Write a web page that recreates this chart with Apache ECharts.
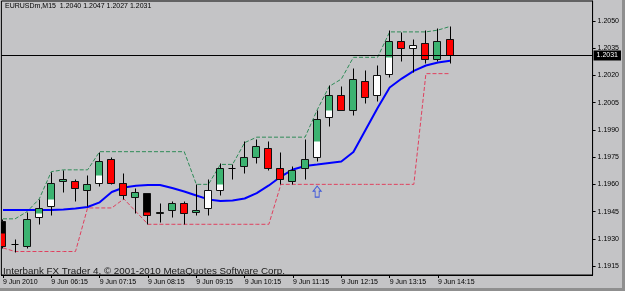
<!DOCTYPE html>
<html><head><meta charset="utf-8">
<script src="https://cdn.jsdelivr.net/npm/echarts@6/dist/echarts.min.js"></script>
<style>html,body{margin:0;padding:0;background:#8f8f8f;}#c{width:622px;height:288px;}</style>
</head><body><div id="c"></div><script>
const symbolName = 'EURUSDm,M15';
const footerText = 'Interbank FX Trader 4, \u00a9 2001-2010 MetaQuotes Software Corp.';
const xTickIdx = [0, 4, 8, 12, 16, 20, 24, 28, 32, 36];
const xTickLabels = ['9 Jun 2010', '9 Jun 06:15', '9 Jun 07:15', '9 Jun 08:15', '9 Jun 09:15', '9 Jun 10:15', '9 Jun 11:15', '9 Jun 12:15', '9 Jun 13:15', '9 Jun 14:15'];
const yTicks = [1.1915, 1.1930, 1.1945, 1.1960, 1.1975, 1.1990, 1.2005, 1.2020, 1.2035, 1.2050];

const openP  = [1.1940, 1.1927, 1.1926, 1.1942, 1.1948, 1.1962, 1.1962, 1.1957, 1.1961, 1.1974, 1.1961, 1.1953, 1.1955, 1.1944, 1.1946, 1.1950, 1.1945, 1.1947, 1.1957, 1.1969, 1.1970, 1.1975, 1.1980, 1.1969, 1.1962, 1.1969, 1.1975, 1.1997, 1.2009, 1.2001, 1.2017, 1.2009, 1.2021, 1.2039, 1.2035, 1.2038, 1.2029, 1.2040];
const closeP = [1.1926, 1.1927, 1.1941, 1.1947, 1.1961, 1.1963, 1.1958, 1.1960, 1.1973, 1.1961, 1.1954, 1.1956, 1.1943, 1.1945, 1.1950, 1.1944, 1.1946, 1.1957, 1.1969, 1.1969, 1.1975, 1.1981, 1.1969, 1.1963, 1.1968, 1.1974, 1.1996, 1.2009, 1.2001, 1.2018, 1.2008, 1.2020, 1.2039, 1.2035, 1.2037, 1.2029, 1.2039, 1.2031];
const lowP   = [1.1925, 1.1923, 1.1925, 1.1938, 1.1943, 1.1956, 1.1951, 1.1948, 1.1959, 1.1960, 1.1952, 1.1944, 1.1938, 1.1939, 1.1942, 1.1938, 1.1943, 1.1943, 1.1954, 1.1963, 1.1966, 1.1972, 1.1968, 1.1960, 1.1960, 1.1963, 1.1973, 1.1992, 1.2001, 1.1998, 1.2005, 1.2006, 1.2019, 1.2028, 1.2022, 1.2027, 1.2028, 1.2027];
const highP  = [1.1941, 1.1930, 1.1945, 1.1952, 1.1967, 1.1968, 1.1963, 1.1965, 1.1978, 1.1975, 1.1966, 1.1958, 1.1955, 1.1950, 1.1951, 1.1951, 1.1960, 1.1963, 1.1972, 1.1971, 1.1984, 1.1985, 1.1984, 1.1978, 1.1970, 1.1985, 1.2001, 1.2015, 1.2014, 1.2024, 1.2023, 1.2026, 1.2045, 1.2044, 1.2040, 1.2045, 1.2046, 1.2047];
const overlayFrom = [1.1933, null, 1.1926, 1.1944, 1.1952, 1.1962, 1.1962, 1.1957, 1.1965, 1.1974, 1.1961, 1.1953, 1.1945, 1.1944, 1.1946, 1.1950, 1.1945, null, 1.1960, null, 1.1970, 1.1975, 1.1980, 1.1969, 1.1962, 1.1969, 1.1984, 1.2001, 1.2009, 1.2001, 1.2017, null, 1.2030, 1.2039, null, 1.2038, 1.2029, 1.2040];
const overlayTo   = [1.1926, null, 1.1941, 1.1947, 1.1961, 1.1963, 1.1958, 1.1960, 1.1973, 1.1961, 1.1954, 1.1956, 1.1943, 1.1945, 1.1950, 1.1944, 1.1946, null, 1.1969, null, 1.1975, 1.1981, 1.1969, 1.1963, 1.1968, 1.1974, 1.1996, 1.2009, 1.2001, 1.2018, 1.2008, null, 1.2039, 1.2035, null, 1.2029, 1.2039, 1.2031];
const maLine = [1.19459, 1.19459, 1.19459, 1.19459, 1.19459, 1.19461, 1.19467, 1.19475, 1.19501, 1.19558, 1.19583, 1.19592, 1.19596, 1.19596, 1.19580, 1.19561, 1.19539, 1.19517, 1.19508, 1.19511, 1.19522, 1.19552, 1.19594, 1.19643, 1.19682, 1.19701, 1.19709, 1.19718, 1.19726, 1.19778, 1.19899, 1.20021, 1.20134, 1.20183, 1.20225, 1.20255, 1.20271, 1.20281];
const upperBand = [1.1941, 1.1941, 1.1945, 1.1952, 1.1967, 1.1968, 1.1968, 1.1968, 1.1978, 1.1978, 1.1978, 1.1978, 1.1978, 1.1978, 1.1978, 1.1978, 1.1960, 1.1960, 1.1971, 1.1971, 1.1983, 1.1986, 1.1986, 1.1986, 1.1986, 1.1986, 1.2001, 1.2014, 1.2018, 1.2030, 1.2030, 1.2030, 1.2044, 1.2044, 1.2044, 1.2044, 1.2045, 1.2047];
const lowerBand = [1.1925, 1.1923, 1.1923, 1.1923, 1.1923, 1.1923, 1.1923, 1.1947, 1.1947, 1.1947, 1.1952, 1.1945, 1.1938, 1.1938, 1.1938, 1.1938, 1.1938, 1.1938, 1.1938, 1.1938, 1.1938, 1.1938, 1.1938, 1.1960, 1.1960, 1.1960, 1.1960, 1.1960, 1.1960, 1.1960, 1.1960, 1.1960, 1.1960, 1.1960, 1.1960, 1.2021, 1.2021, 1.2021];
const arrowUp = [[26, 1.1956]];

const FONT = '"Liberation Sans", Arial, sans-serif';
const last = openP.length - 1;
const headerText = symbolName + '  ' + [openP[last], highP[last], lowP[last], closeP[last]].map(v => v.toFixed(4)).join(' ');

const candleData = openP.map((o, i) => [i, o, closeP[i], lowP[i], highP[i], overlayFrom[i], overlayTo[i]]);
const toXY = arr => arr.map((v, i) => [i, v]);

function renderCandle(params, api) {
  const i = api.value(0);
  const o = api.value(1), c = api.value(2), l = api.value(3), h = api.value(4);
  const fo = api.value(5), fc = api.value(6);
  const pO = api.coord([i, o]), pC = api.coord([i, c]);
  const pL = api.coord([i, l]), pH = api.coord([i, h]);
  const cx = Math.floor(pO[0]) + 0.5;
  const half = 4;
  const children = [];
  children.push({type: 'line', shape: {x1: cx, y1: Math.round(pH[1]) + 0.5, x2: cx, y2: Math.round(pL[1]) + 0.5}, style: {stroke: '#000', lineWidth: 1}});
  const yT = Math.round(Math.min(pO[1], pC[1])) + 0.5;
  const yB = Math.round(Math.max(pO[1], pC[1])) + 0.5;
  if (yB - yT < 1) {
    children.push({type: 'line', shape: {x1: cx - half, y1: yT, x2: cx + half - 1, y2: yT}, style: {stroke: '#000', lineWidth: 1}});
  } else {
    const bull = c > o;
    children.push({type: 'rect', shape: {x: cx - half, y: yT, width: 2 * half - 1, height: yB - yT}, style: {fill: bull ? '#ffffff' : '#000000', stroke: null}});
    if (isFinite(fo) && isFinite(fc)) {
      const qo = api.coord([i, fo])[1], qc = api.coord([i, fc])[1];
      const fT = Math.round(Math.min(qo, qc)) + 0.5;
      const fB = Math.round(Math.max(qo, qc)) + 0.5;
      children.push({type: 'rect', shape: {x: cx - half, y: fT, width: 2 * half - 1, height: Math.max(1, fB - fT)}, style: {fill: fc >= fo ? '#3cb371' : '#ff0000', stroke: null}});
    }
    children.push({type: 'rect', shape: {x: cx - half, y: yT, width: 2 * half - 1, height: yB - yT}, style: {fill: null, stroke: '#111', lineWidth: 1}});
  }
  return {type: 'group', children};
}

const chart = echarts.init(document.getElementById('c'), null, {renderer: 'canvas'});
chart.setOption({
  animation: false,
  backgroundColor: '#c4c4c6',
  textStyle: {fontFamily: FONT},
  title: [
    {text: headerText, left: 5, top: 3, padding: 0, textStyle: {fontSize: 7, fontWeight: 'normal', color: '#000', fontFamily: FONT}},
    {text: footerText, left: 3, top: 266, padding: 0, textStyle: {fontSize: 9.8, fontWeight: 'normal', color: '#1a1a1a', fontFamily: FONT}}
  ],
  grid: {left: 1, top: 1, right: 29, bottom: 13, show: true, borderColor: '#000', borderWidth: 1, backgroundColor: 'transparent'},
  xAxis: {
    type: 'value', min: -0.132, max: 48.794,
    splitLine: {show: false},
    axisLine: {show: true, onZero: false, lineStyle: {color: '#000'}},
    axisTick: {show: true, customValues: xTickIdx, length: 3, lineStyle: {color: '#000'}},
    axisLabel: {customValues: xTickIdx, formatter: v => xTickLabels[xTickIdx.indexOf(Math.round(v))] || '', align: 'left', margin: 4, fontSize: 7, color: '#000', fontFamily: FONT}
  },
  yAxis: {
    type: 'value', position: 'right', min: 1.191006, max: 1.206102, scale: true,
    splitLine: {show: false},
    axisLine: {show: true, onZero: false, lineStyle: {color: '#000'}},
    axisTick: {show: true, customValues: yTicks, length: 3, lineStyle: {color: '#000'}},
    axisLabel: {customValues: yTicks, formatter: v => v.toFixed(4), margin: 5, fontSize: 7, color: '#000', fontFamily: FONT}
  },
  series: [
    {type: 'line', name: 'upper', data: toXY(upperBand), symbol: 'none', z: 1,
     lineStyle: {color: '#2e8b57', width: 1, type: [4, 2]}},
    {type: 'line', name: 'lower', data: toXY(lowerBand), symbol: 'none', z: 1,
     lineStyle: {color: '#e0405e', width: 1, type: [4, 2]}},
    {type: 'line', name: 'ma', data: toXY(maLine), symbol: 'none', z: 2,
     lineStyle: {color: '#0000ff', width: 2},
     markLine: {silent: true, symbol: ['none', 'none'], animation: false, precision: 4,
       lineStyle: {color: '#000', width: 1, type: 'solid'},
       label: {show: true, position: 'end', distance: 1, formatter: p => Number(p.value).toFixed(4), backgroundColor: '#000', color: '#fff', fontSize: 7, padding: [2, 3, 1, 3], fontFamily: FONT},
       data: [{yAxis: closeP[last]}]}},
    {type: 'custom', name: 'candles', data: candleData, renderItem: renderCandle, z: 3, clip: true,
     encode: {x: 0, y: [1, 2, 3, 4]}},
    {type: 'scatter', name: 'arrow', data: arrowUp, z: 4,
     symbol: 'path://M4,0 L8,5 L6,5 L6,11 L2,11 L2,5 L0,5 Z', symbolSize: [8, 11],
     itemStyle: {color: 'rgba(0,0,0,0)', borderColor: '#2040e0', borderWidth: 1}}
  ]
});
</script></body></html>
